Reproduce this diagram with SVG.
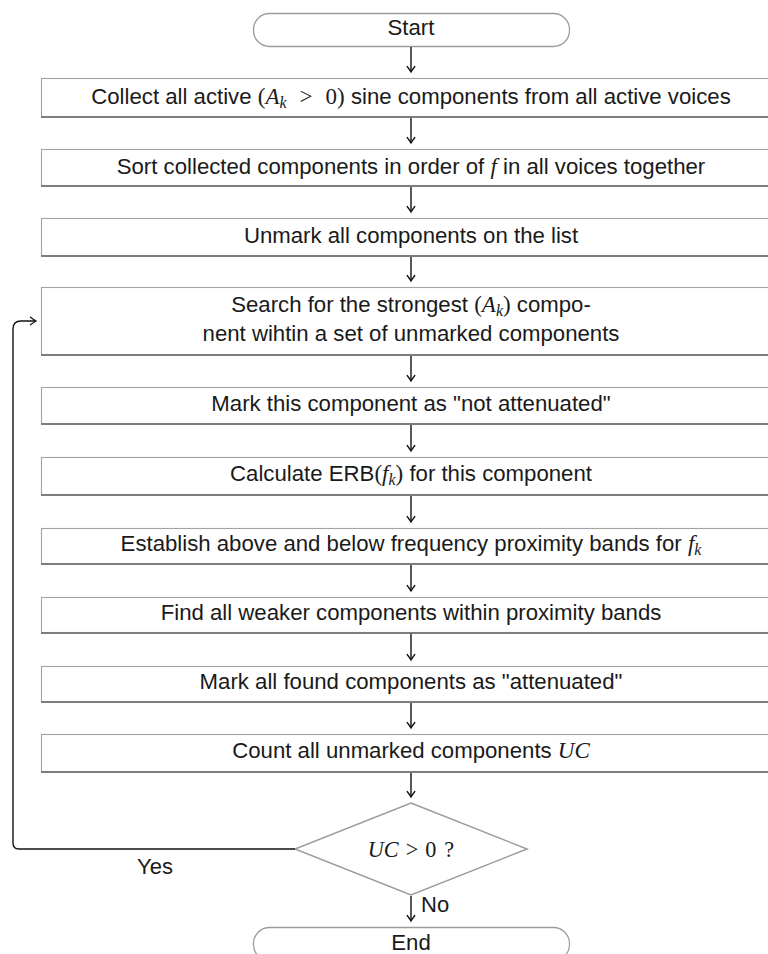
<svg xmlns="http://www.w3.org/2000/svg" width="768" height="954" viewBox="0 0 768 954">
<style>
.box{fill:#fff;stroke:#a3a3a3;stroke-width:1.1}
.sh{stroke:#7d7d7d;stroke-width:2;fill:none}
.term{fill:#fff;stroke:#9c9c9c;stroke-width:1.3}
.dia{fill:#fff;stroke:#9c9c9c;stroke-width:1.5}
.t{font-family:"Liberation Sans",Arial,sans-serif;font-size:22.2px;fill:#1a1a1a;text-anchor:middle}
.lbl{font-family:"Liberation Sans",Arial,sans-serif;font-size:22px;fill:#1a1a1a}
.mi{font-family:"Liberation Serif","Times New Roman",serif;font-style:italic}
.m{font-family:"Liberation Serif","Times New Roman",serif}
.c{stroke:#111;stroke-width:1.4;fill:none;marker-end:url(#ah)}
</style>
<defs>
<marker id="ah" markerUnits="userSpaceOnUse" markerWidth="12" markerHeight="12" viewBox="-8 -6 10 12" refX="0" refY="0" orient="auto">
<path d="M-5.5,-3.8 Q-1.5,-0.8 0,0 Q-1.5,0.8 -5.5,3.8" fill="none" stroke="#111" stroke-width="1.3" stroke-linecap="round"/>
</marker>
</defs>

<g id="start"><rect class="term" x="253.5" y="13.5" width="316" height="33" rx="16"/><text class="t" x="411" y="35">Start</text></g>

<g id="n1"><rect class="box" x="41.5" y="78.5" width="740" height="38"/><line class="sh" x1="41" y1="117" x2="782" y2="117"/>
<text class="t" x="411" y="104">Collect all active <tspan class="m" font-size="23">(</tspan><tspan class="mi" font-size="23">A</tspan><tspan class="mi" font-size="16" dy="4">k</tspan><tspan class="m" font-size="23" dy="-4" dx="13">&gt;</tspan><tspan class="m" font-size="23" dx="13">0)</tspan> sine components from all active voices</text></g>

<g id="n2"><rect class="box" x="41.5" y="149.5" width="740" height="36"/><line class="sh" x1="41" y1="186" x2="782" y2="186"/>
<text class="t" x="411" y="174">Sort collected components in order of <tspan class="mi" font-size="23">f</tspan> in all voices together</text></g>

<g id="n3"><rect class="box" x="41.5" y="218.5" width="740" height="37"/><line class="sh" x1="41" y1="256" x2="782" y2="256"/>
<text class="t" x="411" y="243">Unmark all components on the list</text></g>

<g id="n4"><rect class="box" x="41.5" y="287.5" width="740" height="67"/><line class="sh" x1="41" y1="355" x2="782" y2="355"/>
<text class="t" x="411" y="312">Search for the strongest <tspan class="m" font-size="23">(</tspan><tspan class="mi" font-size="23">A</tspan><tspan class="mi" font-size="16" dy="4">k</tspan><tspan class="m" font-size="23" dy="-4">)</tspan> compo-</text>
<text class="t" x="411" y="341">nent wihtin a set of unmarked components</text></g>

<g id="n5"><rect class="box" x="41.5" y="387.5" width="740" height="36"/><line class="sh" x1="41" y1="424" x2="782" y2="424"/>
<text class="t" x="411" y="411">Mark this component as "not attenuated"</text></g>

<g id="n6"><rect class="box" x="41.5" y="457.5" width="740" height="37"/><line class="sh" x1="41" y1="495" x2="782" y2="495"/>
<text class="t" x="411" y="481">Calculate ERB<tspan class="m" font-size="23">(</tspan><tspan class="mi" font-size="23">f</tspan><tspan class="mi" font-size="16" dy="4">k</tspan><tspan class="m" font-size="23" dy="-4">)</tspan> for this component</text></g>

<g id="n7"><rect class="box" x="41.5" y="528.5" width="740" height="35"/><line class="sh" x1="41" y1="564" x2="782" y2="564"/>
<text class="t" x="411" y="551">Establish above and below frequency proximity bands for <tspan class="mi" font-size="23">f</tspan><tspan class="mi" font-size="16" dy="4">k</tspan></text></g>

<g id="n8"><rect class="box" x="41.5" y="597.5" width="740" height="35"/><line class="sh" x1="41" y1="633" x2="782" y2="633"/>
<text class="t" x="411" y="620">Find all weaker components within proximity bands</text></g>

<g id="n9"><rect class="box" x="41.5" y="666.5" width="740" height="35"/><line class="sh" x1="41" y1="702" x2="782" y2="702"/>
<text class="t" x="411" y="689">Mark all found components as "attenuated"</text></g>

<g id="n10"><rect class="box" x="41.5" y="734.5" width="740" height="37"/><line class="sh" x1="41" y1="772" x2="782" y2="772"/>
<text class="t" x="411" y="758">Count all unmarked components <tspan class="mi" font-size="23">UC</tspan></text></g>

<g id="dec"><polygon class="dia" points="411,803 527,849 411,895 295,849"/>
<text class="t" x="411" y="857" font-size="23"><tspan class="mi">UC</tspan><tspan class="m" dx="7">&gt;</tspan><tspan class="m" dx="7">0</tspan><tspan class="m" dx="8">?</tspan></text></g>

<g id="end"><rect class="term" x="253.5" y="927.5" width="316" height="33" rx="16"/><text class="t" x="411" y="950">End</text></g>

<g id="connectors">
<line class="c" x1="411" y1="47" x2="411" y2="72"/>
<line class="c" x1="411" y1="118" x2="411" y2="143"/>
<line class="c" x1="411" y1="187" x2="411" y2="212"/>
<line class="c" x1="411" y1="257" x2="411" y2="281"/>
<line class="c" x1="411" y1="356" x2="411" y2="381"/>
<line class="c" x1="411" y1="425" x2="411" y2="451"/>
<line class="c" x1="411" y1="496" x2="411" y2="522"/>
<line class="c" x1="411" y1="565" x2="411" y2="591"/>
<line class="c" x1="411" y1="634" x2="411" y2="660"/>
<line class="c" x1="411" y1="703" x2="411" y2="728"/>
<line class="c" x1="411" y1="773" x2="411" y2="797"/>
<line class="c" x1="411" y1="896" x2="411" y2="921"/>
<path class="c" d="M295,849 H19 Q13,849 13,843 V329 Q13,321 21,321 H36"/>
<text class="lbl" x="137" y="874">Yes</text>
<text class="lbl" x="421" y="912">No</text>
</g>
</svg>
